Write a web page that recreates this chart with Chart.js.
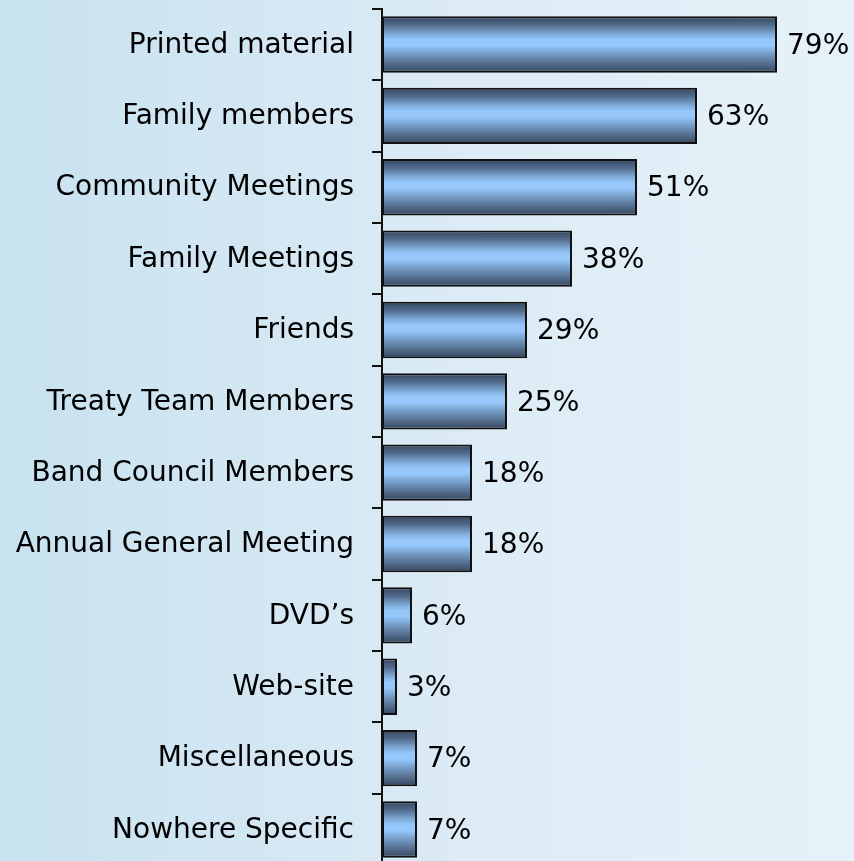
<!DOCTYPE html>
<html>
<head>
<meta charset="utf-8">
<script src="https://cdn.jsdelivr.net/npm/chart.js@4/dist/chart.umd.min.js"></script>
<style>
  html, body { margin: 0; padding: 0; overflow: hidden; }
  body {
    width: 854px; height: 861px;
    background: linear-gradient(to right, #c8e2f0 0%, #dcebf5 55%, #e6f2f9 100%);
  }
  #wrap { position: relative; top: -26px; width: 854px; height: 926px; }
</style>
</head>
<body>
<div id="wrap"><canvas id="chart"></canvas></div>
<script>
// categories and percentages
const sources = [
    'Printed material', 'Family members', 'Community Meetings', 'Family Meetings',
    'Friends', 'Treaty Team Members', 'Band Council Members', 'Annual General Meeting',
    'DVD\u2019s', 'Web-site', 'Miscellaneous', 'Nowhere Specific'
];
const percents = [79, 63, 51, 38, 29, 25, 18, 18, 6, 3, 7, 7];

const FONT = '"DejaVu Sans", Tahoma, sans-serif';

// gradient per bar (dark edges, light middle), built from the laid-out bars
const barShade = {
    id: 'barShade',
    beforeDatasetsDraw(chart) {
        const ctx = chart.ctx;
        chart.getDatasetMeta(0).data.forEach(bar => {
            const top = bar.y - bar.height / 2;
            const g = ctx.createLinearGradient(0, top, 0, top + bar.height);
            g.addColorStop(0, '#34465e');
            g.addColorStop(0.15, '#50698a');
            g.addColorStop(0.32, '#80acd9');
            g.addColorStop(0.42, '#96c8fc');
            g.addColorStop(0.52, '#96c8fc');
            g.addColorStop(0.68, '#7399c3');
            g.addColorStop(0.85, '#526b8a');
            g.addColorStop(1, '#34465e');
            bar.options = Object.assign({}, bar.options, { backgroundColor: g });
        });
    }
};

// percentage text at the end of each bar
const valueLabels = {
    id: 'valueLabels',
    afterDatasetsDraw(chart) {
        const ctx = chart.ctx;
        ctx.save();
        ctx.font = '28px ' + FONT;
        ctx.fillStyle = '#000';
        ctx.textAlign = 'left';
        ctx.textBaseline = 'middle';
        chart.getDatasetMeta(0).data.forEach((bar, i) => {
            ctx.fillText(percents[i] + '%', bar.x + 10, bar.y + 2);
        });
        ctx.restore();
    }
};

new Chart(document.getElementById('chart'), {
    type: 'bar',
    data: {
        labels: sources,
        datasets: [{
            data: percents,
            backgroundColor: '#96c8fc',
            borderColor: '#111',
            borderWidth: 2,
            borderSkipped: false,
            barPercentage: 0.79,
            categoryPercentage: 1
        }]
    },
    options: {
        indexAxis: 'y',
        responsive: true,
        maintainAspectRatio: false,
        animation: false,
        layout: { padding: { top: 9, bottom: 8, left: 0, right: 0 } },
        plugins: { legend: { display: false }, tooltip: { enabled: false } },
        scales: {
            x: { display: false, min: 0, max: 94.4 },
            y: {
                afterFit(scale) { scale.width = 382; },
                border: { display: true, color: '#111', width: 2 },
                grid: {
                    offset: true,
                    drawOnChartArea: false,
                    drawTicks: true,
                    tickLength: 10,
                    color: '#111',
                    lineWidth: 2
                },
                ticks: {
                    color: '#000',
                    padding: 18,
                    labelOffset: 1,
                    font: { family: FONT, size: 28 }
                }
            }
        }
    },
    plugins: [barShade, valueLabels]
});
</script>
</body>
</html>
